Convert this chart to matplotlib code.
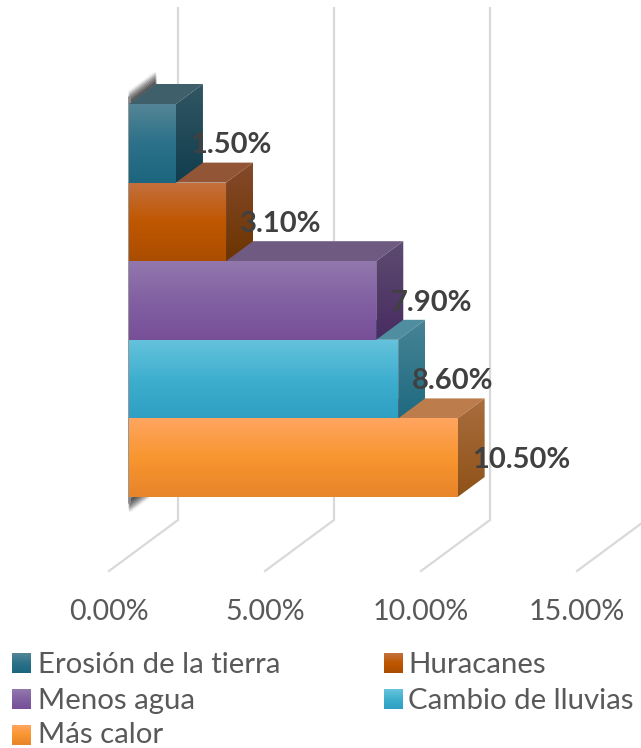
#plot.py
#3D look bar chart, faces drawn as gradients clipped to polygons
import numpy as np
import matplotlib
matplotlib.use("Agg")
import matplotlib.pyplot as plt
from matplotlib.colors import LinearSegmentedColormap
from matplotlib.patches import Polygon

# bottom to top
categories=["Más calor","Cambio de lluvias","Menos agua","Huracanes","Erosión de la tierra"]
values=[10.5,8.6,7.9,3.1,1.5]
tick_values=[0,5,10,15]
tick_labels=["0.00%","5.00%","10.00%","15.00%"]
legend_order=["Erosión de la tierra","Huracanes","Menos agua","Cambio de lluvias","Más calor"]

front_colors={
 "Más calor":["#ffa560","#f8962f","#e8842a"],
 "Cambio de lluvias":["#66c3dc","#3fafcf","#2f9fc2"],
 "Menos agua":["#9278ad","#8260a3","#774f98"],
 "Huracanes":["#c4703f","#bf5700","#aa4d00"],
 "Erosión de la tierra":["#548596","#2b7189","#1b667e"],
}
side_colors={
 "Más calor":["#a96d3f","#8f5218"],
 "Cambio de lluvias":["#478496","#1f6a80"],
 "Menos agua":["#5d4b70","#482c62"],
 "Huracanes":["#854a2b","#6c3400"],
 "Erosión de la tierra":["#315663","#113d4e"],
}
top_colors={
 "Más calor":"#bd7c4c",
 "Cambio de lluvias":"#4f8ea1",
 "Menos agua":"#6f5b81",
 "Huracanes":"#925536",
 "Erosión de la tierra":"#3f5f6a",
}

W,H=641,748
px_x=31.3     # pixels per percent
px_y=78.6     # pixels per category band
x0,y0=129,497 # pixel position of value 0 / bottom of the first bar
bar_dx,bar_dy=27/px_x,20/px_y
grid_scale=156/5/px_x
grid_front=-20/px_x
grid_back=49/px_x
floor_y=-74/px_y
wall_y=-23/px_y
grid_top=489/px_y

plt.rcParams['font.family']=['Lato','DejaVu Sans']
fig=plt.figure(figsize=(W/100,H/100),dpi=100)
ax=fig.add_axes([0,0,1,1])
ax.axis("off")
xlim=(-x0/px_x,(W-x0)/px_x)
ylim=(-(H-y0)/px_y,y0/px_y)

def gradient_face(points,colors,zorder):
    cmap=LinearSegmentedColormap.from_list("face",colors)
    pts=np.array(points)
    im=ax.imshow(np.linspace(0,1,128).reshape(-1,1),cmap=cmap,aspect="auto",origin="upper",
                 extent=(pts[:,0].min(),pts[:,0].max(),pts[:,1].min(),pts[:,1].max()),zorder=zorder)
    poly=Polygon(points,closed=True,transform=ax.transData,fc="none",ec="none")
    ax.add_patch(poly)
    im.set_clip_path(poly)

#gridlines
for v in tick_values:
    xf=v*grid_scale+grid_front
    xb=v*grid_scale+grid_back
    ax.plot([xf,xb,xb],[floor_y,wall_y,grid_top],color="#d9d9d9",lw=1.6,zorder=1,solid_joinstyle="miter")

#left wall edge, fake blur with stacked lines
top_band=len(values)
for j,a in enumerate(np.linspace(0.55,0.04,9)):
    off=j*1.5/px_y
    ax.plot([0,bar_dx],[top_band+off,top_band+bar_dy+off],color="#303030",lw=2.2,alpha=a,zorder=2,solid_capstyle="butt")
    ax.plot([0,bar_dx*0.75],[-off-3/px_y,-off+bar_dy*0.75-3/px_y],color="#303030",lw=2.2,alpha=a,zorder=2,solid_capstyle="butt")
ax.plot([0,0],[-6/px_y,top_band+8/px_y],color="#8c8c8c",lw=2,zorder=2,solid_capstyle="butt")

#bars, bottom one first so each bar covers the top of the one below
for i in range(len(values)):
    name=categories[i]
    v=values[i]
    z=5+i
    ax.add_patch(Polygon([(0,i+1),(v,i+1),(v+bar_dx,i+1+bar_dy),(bar_dx,i+1+bar_dy)],closed=True,fc=top_colors[name],ec="none",zorder=z))
    gradient_face([(0,i),(v,i),(v,i+1),(0,i+1)],front_colors[name],z)
    gradient_face([(v,i),(v+bar_dx,i+bar_dy),(v+bar_dx,i+1+bar_dy),(v,i+1)],side_colors[name],z)

#data labels
for i,v in enumerate(values):
    ax.annotate("%.2f%%"%v,(v,i+0.5),xytext=(10.1,-1.5),textcoords="offset points",ha="left",va="center",
                fontsize=21,fontweight="bold",color="#404040",zorder=20)

#axis labels
for v,lab in zip(tick_values,tick_labels):
    ax.text(v*grid_scale+grid_front,-115/px_y,lab,ha="center",va="center",fontsize=20.6,color="#595959",zorder=20)

ax.set_xlim(xlim)
ax.set_ylim(ylim)

#legend
leg_x=[12,384]
leg_y=[663,699,735]
text_dx=[26,24.5]
lax=fig.add_axes([0,0,1,1])
lax.axis("off")
lax.set_xlim(0,W)
lax.set_ylim(H,0)
for k,name in enumerate(legend_order):
    lx=leg_x[k%2]
    ly=leg_y[k//2]
    cmap=LinearSegmentedColormap.from_list("sw",front_colors[name])
    lax.imshow(np.linspace(0,1,32).reshape(-1,1),cmap=cmap,aspect="auto",extent=(lx,lx+19,ly+10,ly-10))
    lax.text(lx+text_dx[k%2],ly+(2 if k<4 else 0),name,ha="left",va="center",fontsize=21.2,color="#595959")
lax.set_xlim(0,W)
lax.set_ylim(H,0)

fig.savefig("out.png",dpi=100)
